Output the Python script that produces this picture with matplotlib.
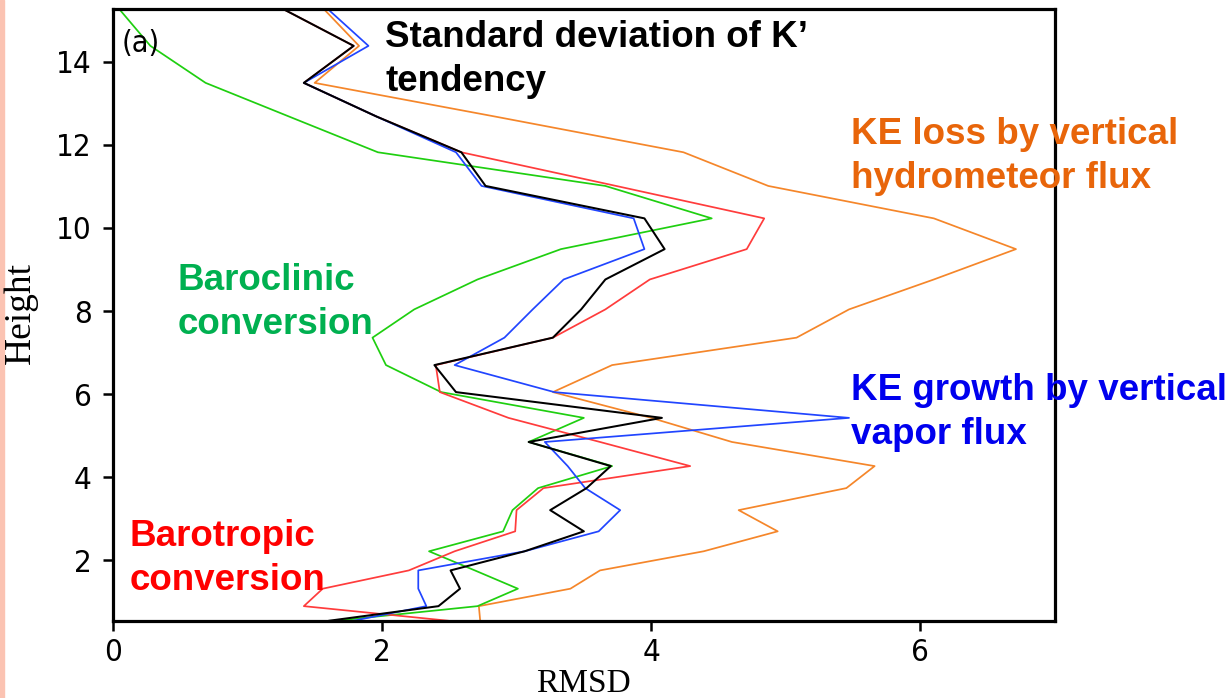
import matplotlib
matplotlib.use("Agg")
import matplotlib.pyplot as plt
from matplotlib import font_manager as fm

# ---------------- data ----------------
height = [15.26, 14.38, 13.49, 12.68, 11.82, 11.01, 10.23, 9.49, 8.76, 8.04,
          7.36, 6.70, 6.05, 5.43, 4.85, 4.27, 3.74, 3.21, 2.70, 2.22,
          1.76, 1.32, 0.90, 0.55]

std_tendency = [1.27, 1.79, 1.42, 1.96, 2.59, 2.77, 3.95, 4.10, 3.66, 3.48,
                3.27, 2.39, 2.55, 4.08, 3.09, 3.70, 3.52, 3.25, 3.50, 3.06,
                2.51, 2.58, 2.42, 1.61]
vapor_flux = [1.60, 1.90, 1.42, 1.96, 2.55, 2.74, 3.87, 3.95, 3.35, 3.12,
              2.91, 2.54, 3.28, 5.47, 3.21, 3.38, 3.51, 3.77, 3.61, 3.06,
              2.27, 2.27, 2.33, 1.79]
barotropic = [1.27, 1.79, 1.42, 1.96, 2.59, 3.74, 4.84, 4.71, 3.99, 3.66,
              3.27, 2.40, 2.43, 2.94, 3.62, 4.29, 3.20, 3.00, 2.99, 2.54,
              2.20, 1.56, 1.42, 2.49]
baroclinic = [0.05, 0.28, 0.69, 1.31, 1.97, 3.66, 4.45, 3.33, 2.71, 2.24,
              1.93, 2.03, 2.44, 3.50, 3.09, 3.71, 3.16, 2.97, 2.90, 2.35,
              2.69, 3.01, 2.71, 1.66]
hydrometeor_flux = [1.57, 1.83, 1.50, 2.84, 4.24, 4.87, 6.10, 6.71, 6.10, 5.47,
                    5.08, 3.71, 3.27, 4.00, 4.60, 5.66, 5.45, 4.65, 4.94, 4.39,
                    3.62, 3.40, 2.72, 2.73]

xticks = [0, 2, 4, 6]
yticks = [2, 4, 6, 8, 10, 12, 14]

# ---------------- fonts ----------------
tick_fp = fm.FontProperties(family="DejaVu Sans", stretch="condensed", size=22.5)
bold_font = "Liberation Sans"
serif_font = "Liberation Serif"

W, H = 1230, 698
fig = plt.figure(figsize=(W / 100, H / 100), dpi=100)
fig.patch.set_facecolor("white")

# pink strip on the left edge
fig.add_artist(plt.Rectangle((0, 0), 4 / W, 1, transform=fig.transFigure,
                             color="#fbc3b2", zorder=0))

ax = fig.add_axes([112.7 / W, 1 - 620.7 / H, (1055 - 112.7) / W, (620.7 - 9.3) / H])

lw = 1.25
ax.plot(hydrometeor_flux, height, color="#f5862a", lw=lw, zorder=2)
ax.plot(baroclinic, height, color="#1fcf10", lw=lw, zorder=2)
ax.plot(barotropic, height, color="#ff3c3c", lw=lw, zorder=2)
ax.plot(vapor_flux, height, color="#2145ff", lw=lw, zorder=2)
ax.plot(std_tendency, height, color="black", lw=1.45, zorder=2)

ax.set_xlim(0, 7.0)
ax.set_ylim(0.55, 15.26)
ax.set_xticks(xticks)
ax.set_yticks(yticks)
ax.set_xticklabels([str(v) for v in xticks], fontproperties=tick_fp)
ax.set_yticklabels([str(v) for v in yticks], fontproperties=tick_fp)
ax.tick_params(direction="out", length=7.2, width=1.8, pad=5)
ax.tick_params(axis="y", pad=8)
for sp in ax.spines.values():
    sp.set_linewidth(2.3)
    sp.set_zorder(5)

# axis labels
fig.text(583 / W, 1 - 684 / H, "RMSD", fontfamily=serif_font, fontsize=24,
         ha="center", va="center")
fig.text(21 / W, 1 - 313 / H, "Height", fontfamily=serif_font, fontsize=27,
         ha="center", va="center", rotation=90)

# panel tag
fig.text(122 / W, 1 - 43 / H, "(a)",
         fontproperties=fm.FontProperties(family="DejaVu Sans", stretch="condensed", size=22),
         ha="left", va="center", zorder=1)

# annotations (one text per line; baseline positions in pixels)
def label(lines, x_px, base_px, color, gap=44):
    for i, s in enumerate(lines):
        fig.text(x_px / W, 1 - (base_px + i * gap) / H, s, fontfamily=bold_font,
                 fontweight="bold", fontsize=26.5, color=color,
                 ha="left", va="baseline", zorder=1)

label(["Standard deviation of K\u2019", "tendency"], 385, 47, "black")
label(["KE loss by vertical", "hydrometeor flux"], 851, 144, "#e8650a")
label(["KE growth by vertical", "vapor flux"], 851, 400, "#0000ee")
label(["Baroclinic", "conversion"], 178, 290, "#00b050")
label(["Barotropic", "conversion"], 130, 546, "#ff0000")

fig.savefig("out.png", dpi=100, facecolor="white")
